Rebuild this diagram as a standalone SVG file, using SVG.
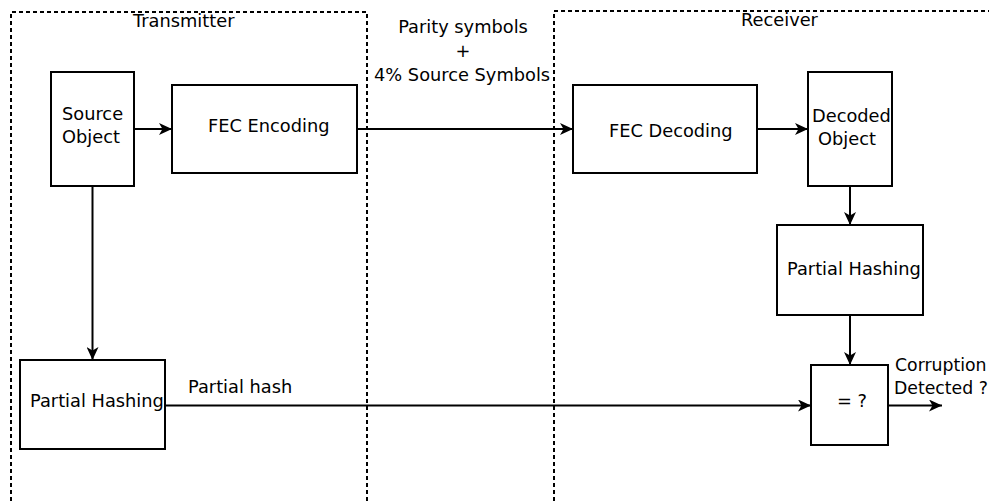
<svg xmlns="http://www.w3.org/2000/svg" width="989" height="501" viewBox="0 0 989 501">
<style>
.box{fill:#fff;stroke:#000;stroke-width:2}
.dash{fill:none;stroke:#000;stroke-width:2;stroke-dasharray:4 3}
.ln{fill:none;stroke:#000;stroke-width:2}
text{font-family:"DejaVu Sans",sans-serif;font-size:17.8px;fill:#000}
.sm{font-size:17.3px}
</style>
<defs>
<marker id="ah" viewBox="0 0 13 12" refX="13" refY="6" markerWidth="13" markerHeight="12" markerUnits="userSpaceOnUse" orient="auto">
<path d="M0,0 L13,6 L0,12 L3.5,6 Z" fill="#000"/>
</marker>
</defs>
<rect width="989" height="501" fill="#fff"/>
<g id="transmitter">
<path class="dash" d="M11,501 V12 H367 V501"/>
<text x="133" y="27">Transmitter</text>
</g>
<g id="receiver">
<path class="dash" d="M554,501 V11 H989"/>
<text x="741" y="26">Receiver</text>
</g>
<g id="connectors">
<line class="ln" x1="134" y1="129" x2="172" y2="129" marker-end="url(#ah)"/>
<line class="ln" x1="357" y1="129" x2="573" y2="129" marker-end="url(#ah)"/>
<line class="ln" x1="757" y1="129" x2="808" y2="129" marker-end="url(#ah)"/>
<line class="ln" x1="92.5" y1="186" x2="92.5" y2="360" marker-end="url(#ah)"/>
<line class="ln" x1="850" y1="186" x2="850" y2="225" marker-end="url(#ah)"/>
<line class="ln" x1="850" y1="315" x2="850" y2="365" marker-end="url(#ah)"/>
<line class="ln" x1="165" y1="405.5" x2="811" y2="405.5" marker-end="url(#ah)"/>
<line class="ln" x1="888" y1="405.5" x2="942" y2="405.5" marker-end="url(#ah)"/>
<text x="463" y="33" text-anchor="middle">Parity symbols</text>
<text x="463" y="57" text-anchor="middle">+</text>
<text x="374" y="81">4% Source Symbols</text>
<text x="188" y="393">Partial hash</text>
<text class="sm" x="895" y="371">Corruption</text>
<text class="sm" x="894" y="394">Detected ?</text>
</g>
<g id="source-object">
<rect class="box" x="51" y="72" width="83" height="114"/>
<text x="62" y="120">Source</text>
<text x="62" y="143">Object</text>
</g>
<g id="fec-encoding">
<rect class="box" x="172" y="85" width="185" height="88"/>
<text x="208" y="132">FEC Encoding</text>
</g>
<g id="fec-decoding">
<rect class="box" x="573" y="85" width="184" height="88"/>
<text x="609" y="137">FEC Decoding</text>
</g>
<g id="decoded-object">
<rect class="box" x="808" y="72" width="84" height="114"/>
<text x="812" y="122">Decoded</text>
<text x="818" y="145">Object</text>
</g>
<g id="partial-hashing-rx">
<rect class="box" x="777" y="225" width="146" height="90"/>
<text x="787" y="275">Partial Hashing</text>
</g>
<g id="compare">
<rect class="box" x="811" y="365" width="77" height="80"/>
<text x="837" y="407">= ?</text>
</g>
<g id="partial-hashing-tx">
<rect class="box" x="20" y="360" width="145" height="89"/>
<text x="30" y="407">Partial Hashing</text>
</g>
</svg>
